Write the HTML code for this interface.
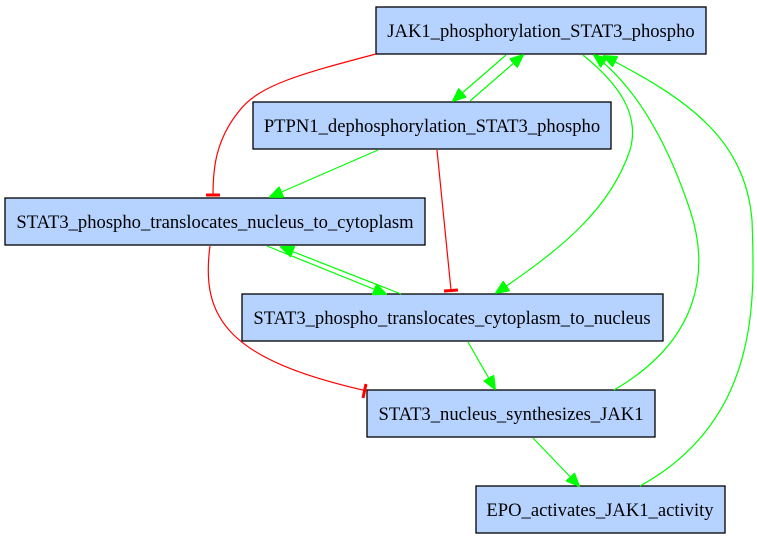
<!DOCTYPE html>
<html><head><style>
body{margin:0;background:#fff;}
svg text{font-family:"Liberation Serif",serif;font-size:18.6px;}
</style></head><body>
<svg width="757" height="539" viewBox="0 0 757 539" xmlns="http://www.w3.org/2000/svg">
<defs>
<marker id="g" markerWidth="14" markerHeight="12" refX="13" refY="6" orient="auto" markerUnits="userSpaceOnUse"><path d="M0,0 L14,6 L0,12 z" fill="#00ff00" stroke="#00ff00"/></marker>
</defs>
<g fill="#b6d2ff" stroke="#000" stroke-width="1.3">
<rect x="376" y="7" width="330" height="47"/>
<rect x="253" y="102" width="358" height="47"/>
<rect x="5" y="198" width="420" height="47"/>
<rect x="242" y="294" width="421" height="47"/>
<rect x="367" y="390" width="288" height="47"/>
<rect x="476" y="486" width="249" height="47"/>
</g>
<g text-anchor="middle" fill="#000">
<text x="541" y="37">JAK1_phosphorylation_STAT3_phospho</text>
<text x="432" y="132">PTPN1_dephosphorylation_STAT3_phospho</text>
<text x="215" y="228">STAT3_phospho_translocates_nucleus_to_cytoplasm</text>
<text x="452" y="324">STAT3_phospho_translocates_cytoplasm_to_nucleus</text>
<text x="511" y="420">STAT3_nucleus_synthesizes_JAK1</text>
<text x="600" y="516">EPO_activates_JAK1_activity</text>
</g>
<g fill="none" stroke="#ff0000" stroke-width="1.2">
<path d="M376,54 C300,74 260,85 240,110 C215,140 213,170 213,195"/>
<path d="M206,195 L220,195" stroke-width="3"/>
<path d="M437,150 L451,290"/>
<path d="M444,291 L458,290" stroke-width="3"/>
<path d="M210,246 C200,320 230,360 367,391"/>
<path d="M366,384 L363,398" stroke-width="3"/>
</g>
<g fill="none" stroke="#00ff00" stroke-width="1.2">
<path d="M506,55 L453,101" marker-end="url(#g)"/>
<path d="M470,101 L523,55" marker-end="url(#g)"/>
<path d="M378,150 L270,197" marker-end="url(#g)"/>
<path d="M583,55 C620,85 640,115 630,150 C610,210 560,250 496,293" marker-end="url(#g)"/>
<path d="M267,246 L386,294" marker-end="url(#g)"/>
<path d="M401,294 L281,247" marker-end="url(#g)"/>
<path d="M468,342 L495,389" marker-end="url(#g)"/>
<path d="M533,438 L579,486" marker-end="url(#g)"/>
<path d="M614,390 C700,340 710,270 690,210 C670,150 640,90 594,55" marker-end="url(#g)"/>
<path d="M640,486 C760,420 755,300 752,220 C745,140 690,100 604,56" marker-end="url(#g)"/>
</g>
</svg>
</body></html>
